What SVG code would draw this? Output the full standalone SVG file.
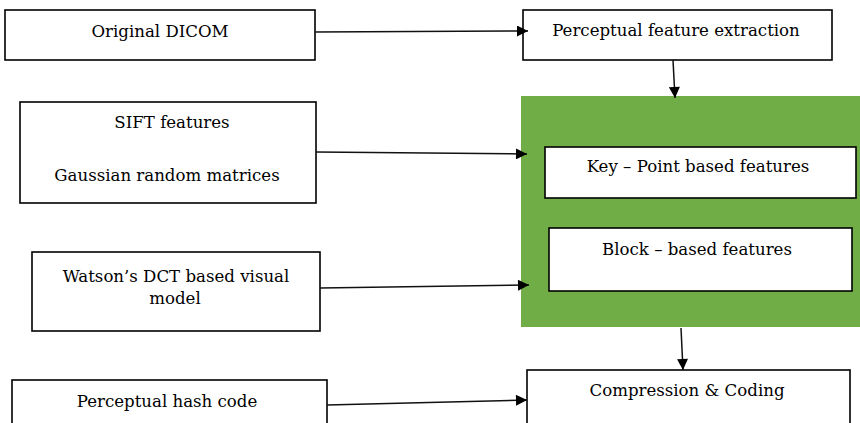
<svg xmlns="http://www.w3.org/2000/svg" width="860" height="423" viewBox="0 0 860 423">
  <defs>
    <marker id="arrow" viewBox="0 0 10 10" refX="10" refY="5" markerWidth="12" markerHeight="11" markerUnits="userSpaceOnUse" orient="auto">
      <path d="M0,0 L10,5 L0,10 Z" fill="#000"/>
    </marker>
  </defs>
  <style>
    .box { fill: #fff; stroke: #000; stroke-width: 1.6; }
    .group { fill: #70AD47; stroke: none; }
    .label { font-family: 'DejaVu Serif', serif; font-size: 16.6px; fill: #000; text-anchor: middle; }
    .edge { stroke: #111; stroke-width: 1.5; fill: none; marker-end: url(#arrow); }
  </style>
  <rect width="860" height="423" fill="#fff"/>

  <g id="original-dicom">
    <rect class="box" x="5" y="10" width="310" height="50"/>
    <text class="label" x="160" y="37">Original DICOM</text>
  </g>

  <g id="feature-extraction">
    <rect class="box" x="523" y="10" width="309" height="50"/>
    <text class="label" x="676" y="36">Perceptual feature extraction</text>
  </g>

  <g id="sift">
    <rect class="box" x="20" y="102" width="296" height="101"/>
    <text class="label" x="172" y="128">SIFT features</text>
    <text class="label" x="167" y="181">Gaussian random matrices</text>
  </g>

  <g id="watson">
    <rect class="box" x="32" y="252" width="288" height="79"/>
    <text class="label" x="176" y="282">Watson’s DCT based visual</text>
    <text class="label" x="175" y="304">model</text>
  </g>

  <g id="hash-code">
    <rect class="box" x="12" y="380" width="315" height="50"/>
    <text class="label" x="167" y="407">Perceptual hash code</text>
  </g>

  <g id="features">
    <rect class="group" x="521" y="96" width="339" height="231"/>
    <g id="keypoint-features">
      <rect class="box" x="545" y="147" width="311" height="51"/>
      <text class="label" x="698" y="172">Key – Point based features</text>
    </g>
    <g id="block-features">
      <rect class="box" x="549" y="228" width="303" height="63"/>
      <text class="label" x="697" y="255">Block – based features</text>
    </g>
  </g>

  <g id="compression">
    <rect class="box" x="527" y="370" width="323" height="60"/>
    <text class="label" x="687" y="396">Compression &amp; Coding</text>
  </g>

  <g id="connectors">
    <line class="edge" x1="315" y1="32" x2="528" y2="31"/>
    <line class="edge" x1="673" y1="60" x2="675" y2="98"/>
    <line class="edge" x1="316" y1="152" x2="527" y2="154"/>
    <line class="edge" x1="320" y1="288" x2="529" y2="285"/>
    <line class="edge" x1="681" y1="328" x2="683" y2="370"/>
    <line class="edge" x1="327" y1="405" x2="527" y2="400"/>
  </g>
</svg>
